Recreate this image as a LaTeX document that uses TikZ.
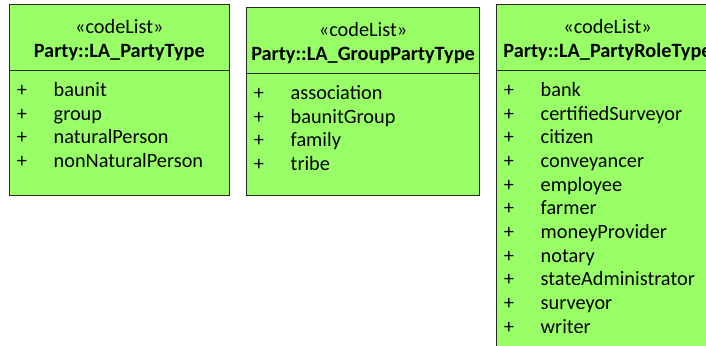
\documentclass[tikz,border=0pt]{standalone}
\usepackage{fontspec}
\setmainfont{Carlito}
\usetikzlibrary{positioning}
\definecolor{codegreen}{RGB}{153,255,102}
\definecolor{umlline}{RGB}{40,40,40}
\tikzset{
  classbox/.style={draw=umlline, fill=codegreen, line width=1.1pt,
    anchor=north west, inner sep=0pt},
  classline/.style={draw=umlline, line width=1pt},
  stereo/.style={font=\fontsize{20.3}{24}\selectfont, anchor=base, inner sep=0pt},
  clsname/.style={font=\fontsize{20.3}{24}\selectfont\bfseries, anchor=base, inner sep=0pt},
  attr/.style={font=\fontsize{20.3}{24}\selectfont, anchor=base west, inner sep=0pt},
  vis/.style={font=\fontsize{20.3}{24}\selectfont, anchor=base, inner sep=0pt},
}
\begin{document}
\begin{tikzpicture}[x=1pt, y=-1pt]
\useasboundingbox (0,0) rectangle (706,345);
\clip (0,0) rectangle (706,345);
\def\lh{23.65}  % attribute line height
% one codeList box per row: id / left / top / width / height / name / literals
\foreach \id/\x/\y/\w/\h/\title/\items in {
  ptype/9/4/219.5/191/{Party::LA\_PartyType}/{baunit,group,naturalPerson,nonNaturalPerson},
  gptype/246/7/233/188/{Party::LA\_GroupPartyType}/{association,baunitGroup,family,tribe},
  prtype/496/4/222/360/{Party::LA\_PartyRoleType}/{bank,certifiedSurveyor,citizen,conveyancer,employee,farmer,moneyProvider,notary,stateAdministrator,surveyor,writer}}{
  \node[classbox, minimum width={\w pt}, minimum height={\h pt}] (\id) at (\x,\y) {};
  \node[stereo] (\id-st) at ([yshift=-29.5pt]\id.north) {«codeList»};
  \node[clsname] (\id-nm) at ([yshift=-53pt]\id.north) {\title};
  \draw[classline] ([yshift=-66pt]\id.north west) -- ([yshift=-66pt]\id.north east);
  % enumeration literals
  \foreach \a [count=\i from 0] in \items {
    \pgfmathsetmacro{\dy}{-92.5-\i*\lh}
    \node[vis] (\id-v\i) at ([xshift=13pt, yshift=\dy pt]\id.north west) {+};
    \node[attr] (\id-a\i) at ([xshift=44.5pt, yshift=\dy pt]\id.north west) {\a};
  }
}
\end{tikzpicture}
\end{document}
